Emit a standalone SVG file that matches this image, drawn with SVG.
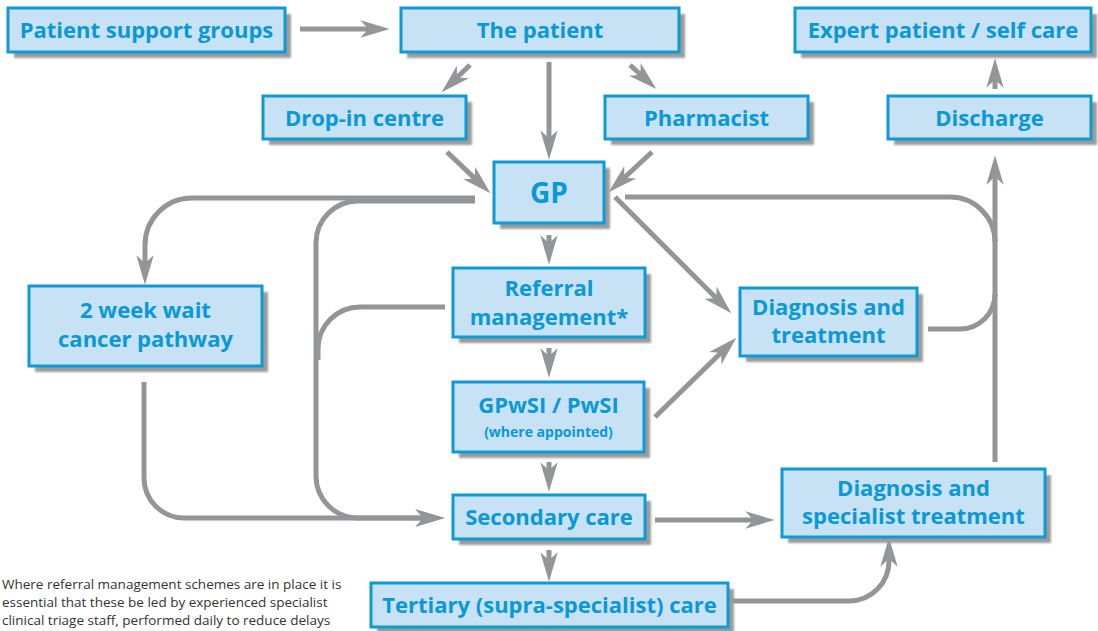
<svg xmlns="http://www.w3.org/2000/svg" width="1098" height="631" viewBox="0 0 1098 631">
<style>
.box{fill:#c6e2f4;stroke:#0d9ad7;stroke-width:3}
.sh{fill:#9b9b9c}
.t{font-family:"Open Sans","Noto Sans",sans-serif;font-weight:700;font-size:22px;fill:#0b98d6;text-anchor:middle}
.s{font-size:14px}
.c{fill:none;stroke:#939598;stroke-width:5}
.note{font-family:"Open Sans","Noto Sans",sans-serif;font-size:13.5px;fill:#333}
</style>
<defs>
<marker id="ah" markerUnits="userSpaceOnUse" markerWidth="40" markerHeight="40" viewBox="-10 -10 30 20" refX="0" refY="0" orient="auto" overflow="visible">
<path d="M14,0 L-8,-6.5 L-2,0 L-8,6.5 Z" fill="#939598"/>
</marker>
<filter id="bl" x="-5%" y="-20%" width="110%" height="140%"><feGaussianBlur stdDeviation="0.8"/></filter>
</defs>

<g id="connectors" class="c">
<path d="M300,29 L371,29" marker-end="url(#ah)"/>
<path d="M470,65 L455.1,79.3" marker-end="url(#ah)"/>
<path d="M549,62 L549,141" marker-end="url(#ah)"/>
<path d="M630,65 L642.6,76.5" marker-end="url(#ah)"/>
<path d="M447,152 L476.9,180.4" marker-end="url(#ah)"/>
<path d="M652,152 L622.3,179.5" marker-end="url(#ah)"/>
<path d="M475,198 H192 A47,47 0 0 0 145,245 V266" marker-end="url(#ah)"/>
<path d="M475,201 H358 A42,42 0 0 0 316,243 V476 A42,42 0 0 0 358,518 H426" marker-end="url(#ah)"/>
<path d="M445,307 H360 A42,42 0 0 0 318,349 V360"/>
<path d="M144,382 V478 A40,40 0 0 0 184,518 H426" marker-end="url(#ah)"/>
<path d="M549,235 L549,246" marker-end="url(#ah)"/>
<path d="M549,348 L549,359" marker-end="url(#ah)"/>
<path d="M549,462 L549,473" marker-end="url(#ah)"/>
<path d="M549,550 L549,563" marker-end="url(#ah)"/>
<path d="M615,197 L718.1,300.1" marker-end="url(#ah)"/>
<path d="M655,417 L723,350.8" marker-end="url(#ah)"/>
<path d="M995,462 V174" marker-end="url(#ah)"/>
<path d="M625,197 H950 A45,45 0 0 1 995,242"/>
<path d="M928,329 H960 A35,35 0 0 0 995,294"/>
<path d="M995,89 L995,77" marker-end="url(#ah)"/>
<path d="M655,520 H756" marker-end="url(#ah)"/>
<path d="M715,601 H849 A40,40 0 0 0 889,561 V556" marker-end="url(#ah)"/>
</g>

<g id="n-support">
<rect class="sh" x="14" y="14" width="277" height="44" filter="url(#bl)"/>
<rect class="box" x="8" y="8" width="277" height="44"/>
<text class="t" x="146.5" y="38">Patient support groups</text>
</g>
<g id="n-patient">
<rect class="sh" x="407" y="14" width="278" height="44" filter="url(#bl)"/>
<rect class="box" x="401" y="8" width="278" height="44"/>
<text class="t" x="540" y="38">The patient</text>
</g>
<g id="n-dropin">
<rect class="sh" x="269" y="102" width="203" height="43" filter="url(#bl)"/>
<rect class="box" x="263" y="96" width="203" height="43"/>
<text class="t" x="364.5" y="125.5">Drop-in centre</text>
</g>
<g id="n-pharmacist">
<rect class="sh" x="611" y="102" width="203" height="43" filter="url(#bl)"/>
<rect class="box" x="605" y="96" width="203" height="43"/>
<text class="t" x="706.5" y="125.5">Pharmacist</text>
</g>
<g id="n-expert">
<rect class="sh" x="801" y="14" width="296" height="44" filter="url(#bl)"/>
<rect class="box" x="795" y="8" width="296" height="44"/>
<text class="t" x="943" y="38">Expert patient / self care</text>
</g>
<g id="n-discharge">
<rect class="sh" x="894" y="102" width="203" height="43" filter="url(#bl)"/>
<rect class="box" x="888" y="96" width="203" height="43"/>
<text class="t" x="989.5" y="125.5">Discharge</text>
</g>
<g id="n-gp">
<rect class="sh" x="500" y="168" width="110" height="61" filter="url(#bl)"/>
<rect class="box" x="494" y="162" width="110" height="61"/>
<text class="t" x="549" y="202.5" style="font-size:28px">GP</text>
</g>
<g id="n-referral">
<rect class="sh" x="459" y="274" width="192" height="69" filter="url(#bl)"/>
<rect class="box" x="453" y="268" width="192" height="69"/>
<text class="t" x="549" y="296">Referral</text>
<text class="t" x="549" y="325">management*</text>
</g>
<g id="n-2ww">
<rect class="sh" x="35" y="292" width="233" height="80" filter="url(#bl)"/>
<rect class="box" x="29" y="286" width="233" height="80"/>
<text class="t" x="145.5" y="318">2 week wait</text>
<text class="t" x="145.5" y="347">cancer pathway</text>
</g>
<g id="n-diag">
<rect class="sh" x="746" y="294" width="177" height="68" filter="url(#bl)"/>
<rect class="box" x="740" y="288" width="177" height="68"/>
<text class="t" x="828.5" y="315">Diagnosis and</text>
<text class="t" x="828.5" y="343">treatment</text>
</g>
<g id="n-gpwsi">
<rect class="sh" x="459" y="388" width="191" height="70" filter="url(#bl)"/>
<rect class="box" x="453" y="382" width="191" height="70"/>
<text class="t" x="548.5" y="413">GPwSI / PwSI</text>
<text class="t s" x="548.5" y="437">(where appointed)</text>
</g>
<g id="n-secondary">
<rect class="sh" x="459" y="501" width="192" height="44" filter="url(#bl)"/>
<rect class="box" x="453" y="495" width="192" height="44"/>
<text class="t" x="549" y="525">Secondary care</text>
</g>
<g id="n-tertiary">
<rect class="sh" x="377" y="589" width="357" height="44" filter="url(#bl)"/>
<rect class="box" x="371" y="583" width="357" height="44"/>
<text class="t" x="549.5" y="613">Tertiary (supra-specialist) care</text>
</g>
<g id="n-diagspec">
<rect class="sh" x="788" y="475" width="263" height="68" filter="url(#bl)"/>
<rect class="box" x="782" y="469" width="263" height="68"/>
<text class="t" x="913.5" y="496">Diagnosis and</text>
<text class="t" x="913.5" y="524">specialist treatment</text>
</g>

<g id="footnote">
<text class="note" x="2" y="589">Where referral management schemes are in place it is</text>
<text class="note" x="2" y="607">essential that these be led by experienced specialist</text>
<text class="note" x="2" y="625">clinical triage staff, performed daily to reduce delays</text>
</g>
</svg>
